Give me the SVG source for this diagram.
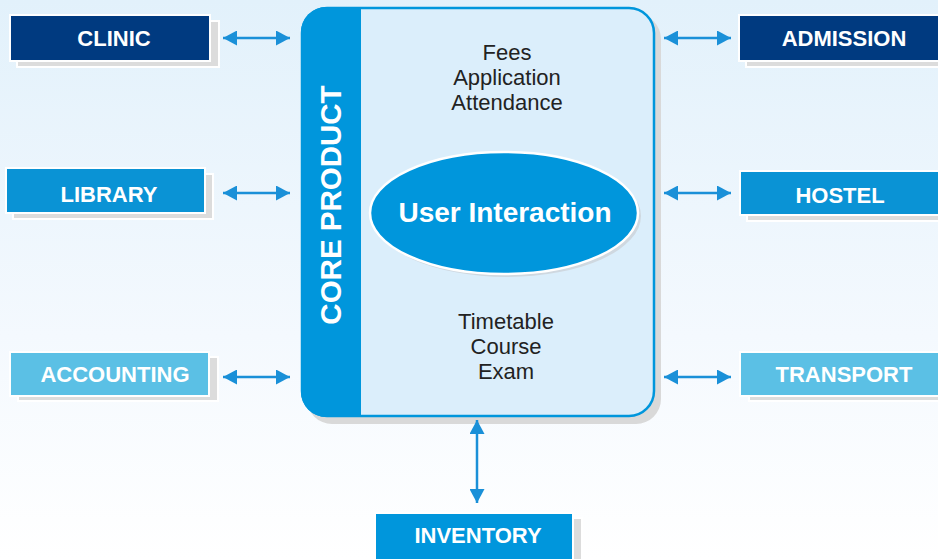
<svg xmlns="http://www.w3.org/2000/svg" width="938" height="559" viewBox="0 0 938 559">
<defs>
<linearGradient id="bg" x1="0" y1="0" x2="0" y2="1">
<stop offset="0" stop-color="#e2f1fb"/>
<stop offset="0.6" stop-color="#f4f9fe"/>
<stop offset="1" stop-color="#ffffff"/>
</linearGradient>
<marker id="ah" markerUnits="userSpaceOnUse" markerWidth="15" markerHeight="15" viewBox="0 0 15 15" refX="14" refY="7.5" orient="auto-start-reverse">
<path d="M0,0 L14,7.5 L0,15 Z" fill="#1a90d8"/>
</marker>
<style>
.sh{fill:#dcdcdc;stroke:#ffffff;stroke-width:2}
.box{stroke:#ffffff;stroke-width:2}
.navy{fill:#003a80}
.mid{fill:#0a93d5}
.light{fill:#5bc0e5}
.inv{fill:#0096dc}
.lbl{font-family:"Liberation Sans",Arial,sans-serif;font-weight:bold;font-size:22px;fill:#ffffff;text-anchor:middle}
.inner{font-family:"Liberation Sans",Arial,sans-serif;font-size:22px;fill:#222222;text-anchor:middle}
.conn{stroke:#1a90d8;stroke-width:2.5;fill:none;marker-start:url(#ah);marker-end:url(#ah)}
</style>
</defs>
<rect x="0" y="0" width="938" height="559" fill="url(#bg)"/>

<g id="core">
<rect x="307" y="14" width="354" height="410" rx="25" fill="#d9d9d9"/>
<rect x="302" y="8" width="352" height="408" rx="25" fill="#dbeefb" stroke="#0096dc" stroke-width="2.5"/>
<path d="M361 7 H326 A25 25 0 0 0 301 32 V392 A25 25 0 0 0 326 417 H361 Z" fill="#0096dc"/>
<text transform="translate(341,205) rotate(-90)" font-family="'Liberation Sans',Arial,sans-serif" font-weight="bold" font-size="29.5" fill="#ffffff" text-anchor="middle">CORE PRODUCT</text>
<text class="inner" x="507" y="60">Fees</text>
<text class="inner" x="507" y="85">Application</text>
<text class="inner" x="507" y="110">Attendance</text>
<text class="inner" x="506" y="329">Timetable</text>
<text class="inner" x="506" y="354">Course</text>
<text class="inner" x="506" y="379">Exam</text>
</g>

<g id="user-interaction">
<ellipse cx="507" cy="216" rx="134" ry="61" fill="#cfd8e0"/>
<ellipse cx="504" cy="213" rx="134" ry="61" fill="#0096dc" stroke="#ffffff" stroke-width="2.5"/>
<text x="505" y="222" font-family="'Liberation Sans',Arial,sans-serif" font-weight="bold" font-size="28" fill="#ffffff" text-anchor="middle">User Interaction</text>
</g>

<g id="clinic">
<rect class="sh" x="17" y="21" width="202" height="46"/>
<rect class="box navy" x="10" y="15" width="200" height="46"/>
<text class="lbl" x="114" y="46">CLINIC</text>
</g>
<g id="library">
<rect class="sh" x="13" y="174" width="200" height="45"/>
<rect class="box mid" x="6" y="168" width="199" height="45"/>
<text class="lbl" x="109" y="202">LIBRARY</text>
</g>
<g id="accounting">
<rect class="sh" x="18" y="357" width="200" height="44"/>
<rect class="box light" x="10" y="352" width="199" height="44"/>
<text class="lbl" x="115" y="382">ACCOUNTING</text>
</g>
<g id="admission">
<rect class="sh" x="746" y="21" width="200" height="46"/>
<rect class="box navy" x="739" y="15" width="205" height="46"/>
<text class="lbl" x="844" y="46">ADMISSION</text>
</g>
<g id="hostel">
<rect class="sh" x="747" y="176" width="200" height="45"/>
<rect class="box mid" x="740" y="171" width="205" height="44"/>
<text class="lbl" x="840" y="203">HOSTEL</text>
</g>
<g id="transport">
<rect class="sh" x="749" y="357" width="200" height="44"/>
<rect class="box light" x="740" y="352" width="205" height="44"/>
<text class="lbl" x="844" y="382">TRANSPORT</text>
</g>
<g id="inventory">
<rect class="sh" x="382" y="518" width="200" height="45"/>
<rect class="box inv" x="375" y="513" width="198" height="50"/>
<text class="lbl" x="478" y="543">INVENTORY</text>
</g>

<g id="connectors">
<line class="conn" x1="223" y1="38" x2="290" y2="38"/>
<line class="conn" x1="223" y1="193" x2="290" y2="193"/>
<line class="conn" x1="223" y1="377" x2="290" y2="377"/>
<line class="conn" x1="664" y1="38" x2="731" y2="38"/>
<line class="conn" x1="664" y1="193" x2="731" y2="193"/>
<line class="conn" x1="664" y1="377" x2="731" y2="377"/>
<line class="conn" x1="477" y1="420" x2="477" y2="503"/>
</g>
</svg>
